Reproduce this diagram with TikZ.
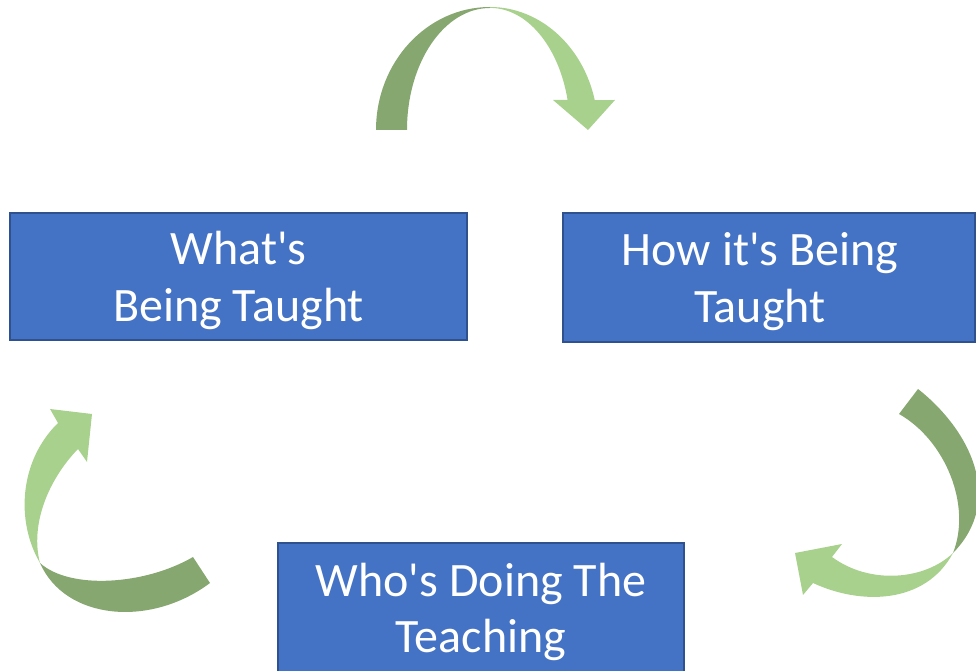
\documentclass[tikz,border=0pt]{standalone}
\usepackage{fontspec}
\setmainfont{Carlito}
\newcommand{\apos}{\textquotesingle}
% tall invisible strut that pushes a two-line label a little down
\newcommand{\tallstrut}{\rule{0pt}{41pt}}
\definecolor{boxfill}{HTML}{4472C4}
\definecolor{boxline}{HTML}{2F528F}
\definecolor{ribbonlight}{HTML}{A9D18E}
\definecolor{ribbondark}{HTML}{86A870}
\begin{document}
\begin{tikzpicture}[x=1pt,y=1pt,
  stage/.style={draw=boxline, fill=boxfill, line width=1.5pt, text=white,
    align=center, inner sep=0pt, outer sep=0pt,
    font=\fontsize{48}{56.5}\selectfont},
  front/.style={fill=ribbonlight, draw=none},
  back/.style={fill=ribbondark, draw=none}]
\useasboundingbox (0,0) rectangle (976,671);
\clip (0,0) rectangle (976,671);

% the three stages
\node[stage, minimum width=457pt, minimum height=127pt] (what) at (238.5,394.5)
  {\tallstrut What\apos s\\Being Taught};
\node[stage, minimum width=412pt, minimum height=129pt] (how) at (769,393.5)
  {\tallstrut How it\apos s Being\hspace*{18pt}\\Taught\hspace*{18pt}};
\node[stage, minimum width=406pt, minimum height=138pt] (who) at (481,59)
  {Who\apos s Doing The\\Teaching};

% curved arrow over the top: what -> how
\fill[back] (376,541) arc[start angle=180, end angle=90, x radius=114, y radius=123]
  -- (490,663) arc[start angle=90, end angle=180, x radius=83, y radius=122] -- cycle;
\fill[front] (490,664) arc[start angle=90, end angle=14, x radius=108, y radius=123]
  -- (615,571) -- (588,541) -- (553,571) -- (567.6,571)
  arc[start angle=14.2, end angle=90, x radius=80, y radius=122] -- cycle;

% curved arrow on the right: how -> who
\fill[back] (918,282) .. controls (970,241) and (1005,171) .. (953,118)
  .. controls (972,166) and (945,231) .. (899,257) -- cycle;
\fill[front] (953,118) .. controls (925,91) and (870,86) .. (832,114)
  -- (842,127) -- (795,118) -- (803,76) -- (813,88)
  .. controls (860,66) and (925,66) .. (953,118) -- cycle;

% curved arrow on the left: who -> what
\fill[back] (40,108) .. controls (65,51) and (150,43) .. (210,88)
  -- (193,114) .. controls (145,86) and (70,81) .. (40,108) -- cycle;
\fill[front] (40,108) .. controls (15,151) and (20,211) .. (58,248)
  -- (50,262) -- (92,257) -- (87,209) -- (78,222)
  .. controls (48,191) and (30,146) .. (40,108) -- cycle;
\end{tikzpicture}
\end{document}
